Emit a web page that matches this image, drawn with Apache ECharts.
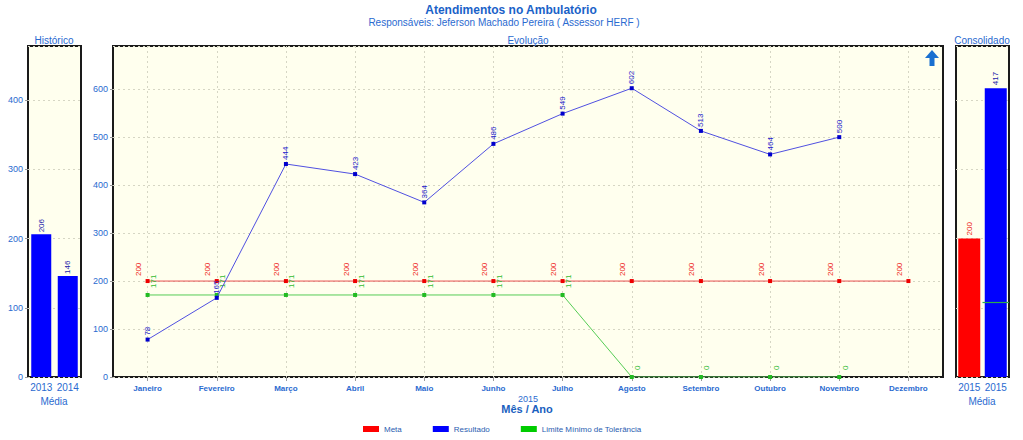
<!DOCTYPE html>
<html><head><meta charset="utf-8">
<script src="https://cdn.jsdelivr.net/npm/echarts@6/dist/echarts.min.js"></script>
<style>html,body{margin:0;padding:0;background:#fff}#c{width:1023px;height:440px}</style>
</head><body><div id="c"></div>
<script>
const months = ['Janeiro','Fevereiro','Março','Abril','Maio','Junho','Julho','Agosto','Setembro','Outubro','Novembro','Dezembro'];
const meta = [200,200,200,200,200,200,200,200,200,200,200,200];
const resultado = [78,165,444,423,364,486,549,602,513,464,500,null];
const limite = [171,171,171,171,171,171,171,0,0,0,0,null];
const histYears = ['2013','2014'];
const histValues = [206,146];
const consYears = ['2015','2015'];
const consValues = [200,417];
const consLimite = [109];

const FF = '"Liberation Sans", Arial, sans-serif';
const BLUE_TXT = '#2a6ad0';
const BG = '#ffffee';
const GRIDLINE = '#d6d6c4';

function yAxisCfg(gi, max, showLabels) {
  return {
    type: 'value', gridIndex: gi, min: 0, max: max, interval: 100,
    axisLine: {show: false},
    axisTick: {show: showLabels, length: 3, lineStyle: {color: '#999'}},
    axisLabel: {show: showLabels, color: BLUE_TXT, fontFamily: FF, fontSize: 9, margin: 5, showMaxLabel: false},
    splitLine: {show: true, lineStyle: {color: GRIDLINE, type: [2, 3]}}
  };
}
function xAxisCatCfg(gi, data, bold, vsplit) {
  return {
    type: 'category', gridIndex: gi, data: data,
    axisLine: {show: false},
    axisTick: {show: vsplit, alignWithLabel: true, length: 4, lineStyle: {color: '#999'}},
    axisLabel: {color: BLUE_TXT, fontFamily: FF, fontSize: bold ? 8 : 10, fontWeight: bold ? 'bold' : 'normal', margin: bold ? 7 : 5, interval: 0},
    splitLine: {show: vsplit, alignWithLabel: true, lineStyle: {color: GRIDLINE, type: [2, 3]}}
  };
}
function rotLabel(color, pos) {
  return {show: true, rotate: 90, position: pos, align: 'left', verticalAlign: 'middle',
    color: color, fontFamily: FF, fontSize: 8};
}

const gridBox = {show: true, backgroundColor: BG, borderColor: '#1a1a1a', borderWidth: 2};

const option = {
  animation: false,
  grid: [
    Object.assign({left: 28, top: 46, width: 53, height: 331}, gridBox),
    Object.assign({left: 113, top: 46, width: 830, height: 331}, gridBox),
    Object.assign({left: 956, top: 46, width: 53, height: 331}, gridBox)
  ],
  xAxis: [
    xAxisCatCfg(0, histYears, false, false),
    xAxisCatCfg(1, months, true, true),
    xAxisCatCfg(2, consYears, false, false)
  ],
  yAxis: [
    yAxisCfg(0, 478, true),
    yAxisCfg(1, 690, true),
    yAxisCfg(2, 478, false)
  ],
  legend: {
    left: 363, top: 425, padding: 0, itemGap: 31, itemWidth: 16, itemHeight: 6, icon: 'rect',
    textStyle: {color: '#2a5db0', fontFamily: FF, fontSize: 8},
    data: [
      {name: 'Meta', itemStyle: {color: '#ff0000'}},
      {name: 'Resultado', itemStyle: {color: '#0000ff'}},
      {name: 'Limite Mínimo de Tolerância', itemStyle: {color: '#00cc00'}}
    ]
  },
  graphic: [
    {type: 'text', x: 511, y: 10, style: {text: 'Atendimentos no Ambulatório', textAlign: 'center', textVerticalAlign: 'middle', font: 'bold 12px ' + FF, fill: '#1a62c8'}},
    {type: 'text', x: 504, y: 22, style: {text: 'Responsáveis: Jeferson Machado Pereira ( Assessor HERF )', textAlign: 'center', textVerticalAlign: 'middle', font: '10px ' + FF, fill: BLUE_TXT}},
    {type: 'text', x: 528, y: 40, style: {text: 'Evolução', textAlign: 'center', textVerticalAlign: 'middle', font: '10px ' + FF, fill: BLUE_TXT}},
    {type: 'text', x: 54, y: 40, style: {text: 'Histórico', textAlign: 'center', textVerticalAlign: 'middle', font: '10px ' + FF, fill: BLUE_TXT}},
    {type: 'text', x: 982, y: 40, style: {text: 'Consolidado', textAlign: 'center', textVerticalAlign: 'middle', font: '10px ' + FF, fill: BLUE_TXT}},
    {type: 'text', x: 528, y: 399, style: {text: '2015', textAlign: 'center', textVerticalAlign: 'middle', font: '9px ' + FF, fill: BLUE_TXT}},
    {type: 'text', x: 527, y: 409, style: {text: 'Mês / Ano', textAlign: 'center', textVerticalAlign: 'middle', font: 'bold 11px ' + FF, fill: '#1a5fc0'}},
    {type: 'text', x: 54, y: 401, style: {text: 'Média', textAlign: 'center', textVerticalAlign: 'middle', font: '10px ' + FF, fill: BLUE_TXT}},
    {type: 'text', x: 982, y: 401, style: {text: 'Média', textAlign: 'center', textVerticalAlign: 'middle', font: '10px ' + FF, fill: BLUE_TXT}},
    {type: 'polygon', z: 100, shape: {points: [[925, 58], [932, 50], [939, 58], [934.5, 58], [934.5, 66], [929.5, 66], [929.5, 58]]}, style: {fill: '#1a70d0'}}
  ],
  series: [
    {
      name: 'Histórico', type: 'bar', xAxisIndex: 0, yAxisIndex: 0, data: histValues,
      barWidth: 20, itemStyle: {color: '#0000ff'},
      label: {show: true, position: 'top', distance: 2, rotate: 90, align: 'left', verticalAlign: 'middle', color: '#1a1aaa', fontFamily: FF, fontSize: 8}
    },
    {
      name: 'Meta', type: 'line', xAxisIndex: 1, yAxisIndex: 1, data: meta,
      symbol: 'rect', symbolSize: 4, itemStyle: {color: '#ee0000'}, lineStyle: {color: '#e85050', width: 1},
      label: rotLabel('#ee2222', [-7, -3]), z: 3
    },
    {
      name: 'Limite Mínimo de Tolerância', type: 'line', xAxisIndex: 1, yAxisIndex: 1, data: limite,
      symbol: 'rect', symbolSize: 4, itemStyle: {color: '#22bb22'}, lineStyle: {color: '#55cc55', width: 1},
      label: rotLabel('#33bb33', [8, -5]), z: 4
    },
    {
      name: 'Resultado', type: 'line', xAxisIndex: 1, yAxisIndex: 1, data: resultado,
      symbol: 'rect', symbolSize: 4, itemStyle: {color: '#0000cc'}, lineStyle: {color: '#5050e0', width: 1},
      label: rotLabel('#2222cc', [2, -2]), z: 5
    },
    {
      name: 'Consolidado', type: 'bar', xAxisIndex: 2, yAxisIndex: 2,
      data: [
        {value: consValues[0], itemStyle: {color: '#ff0000'}, label: {color: '#ee2222'}},
        {value: consValues[1], itemStyle: {color: '#0000ff'}, label: {color: '#1a1aaa'}}
      ],
      barWidth: 22,
      label: {show: true, position: 'top', distance: 3, rotate: 90, align: 'left', verticalAlign: 'middle', fontFamily: FF, fontSize: 8}
    },
    {
      name: 'ConsLimite', type: 'custom', xAxisIndex: 2, yAxisIndex: 2,
      data: consLimite.map(v => [1, v]), z: 10,
      renderItem: function (params, api) {
        const c = api.coord([api.value(0), api.value(1)]);
        const w = api.size([1, 0])[0];
        const y = Math.round(c[1]) + 0.5;
        return {type: 'line', shape: {x1: c[0] - w * 0.5, y1: y, x2: c[0] + w * 0.5, y2: y},
          style: {stroke: '#2eaa4a', lineWidth: 1.2, fill: null}};
      }
    }
  ]
};
const chart = echarts.init(document.getElementById('c'), null, {renderer: 'svg'});
chart.setOption(option);
</script></body></html>
